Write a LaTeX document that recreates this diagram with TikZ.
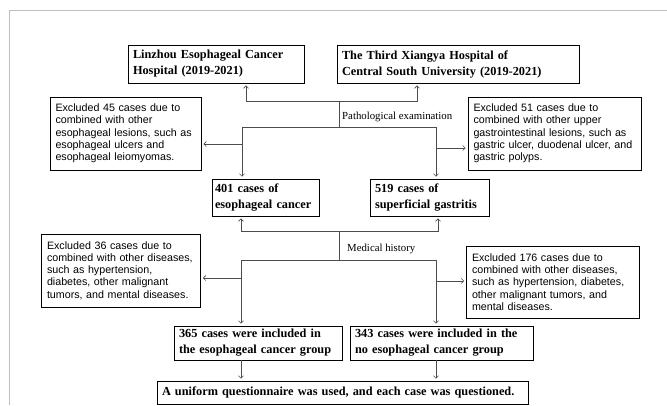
\documentclass[tikz,border=0pt]{standalone}
\usepackage{fontspec}
\setmainfont{Liberation Serif}
\newfontfamily\exclfont{Liberation Sans}
\usetikzlibrary{arrows.meta, positioning}
\tikzset{
  mainbox/.style={draw, line width=0.8pt, inner xsep=5pt, inner ysep=2pt,
    font=\bfseries\fontsize{12.3}{16}\selectfont, text width=#1, align=left},
  exclbox/.style={draw, line width=0.8pt, inner xsep=5.5pt, inner ysep=2pt,
    font=\exclfont\fontsize{10.7}{12.3}\selectfont, text width=#1, align=left},
  link/.style={draw=black!70, line width=0.6pt},
  arr/.style={link, -{Straight Barb[length=2.5pt,width=5pt]}, shorten >=2pt},
  steplabel/.style={font=\fontsize{10.8}{12}\selectfont, anchor=west, inner sep=0pt}}

\begin{document}
\begin{tikzpicture}[x=1pt, y=-1pt]
\useasboundingbox (0,0) rectangle (667,405);
\draw[black!25, line width=1.2pt] (667,10.5) -- (9.5,10.5) -- (9.5,405);
% hospitals
\node[mainbox=166pt, minimum height=38pt] (linzhou) at (216,64)
  {Linzhou Esophageal Cancer\\Hospital (2019-2021)};
\node[mainbox=232pt, minimum height=38pt] (xiangya) at (458,64)
  {The Third Xiangya Hospital of\\Central South University (2019-2021)};
% first exclusion
\node[exclbox=140pt, minimum height=73pt] (exc45) at (125.5,133.5)
  {Excluded 45 cases due to\\combined with other\\esophageal lesions, such as\\esophageal ulcers and\\esophageal leiomyomas.};
\node[exclbox=162pt, minimum height=73pt] (exc51) at (554.5,133.5)
  {Excluded 51 cases due to\\combined with other upper\\gastrointestinal lesions, such as\\gastric ulcer, duodenal ulcer, and\\gastric polyps.};
\node[mainbox=101pt, inner xsep=3pt, minimum height=37pt] (ec401) at (265.5,197.5)
  {401 cases of\\esophageal cancer};
\node[mainbox=109pt, minimum height=37pt] (sg519) at (429.5,197.5)
  {519 cases of\\superficial gastritis};
% second exclusion
\node[exclbox=148pt, minimum height=73pt] (exc36) at (121,270.5)
  {Excluded 36 cases due to\\combined with other diseases,\\such as hypertension,\\diabetes, other malignant\\tumors, and mental diseases.};
\node[exclbox=162pt, minimum height=72pt] (exc176) at (553,282)
  {Excluded 176 cases due to\\combined with other diseases,\\such as hypertension, diabetes,\\other malignant tumors, and\\mental diseases.};
\node[mainbox=158pt, minimum height=34pt] (inc365) at (258,343)
  {365 cases were included in\\the esophageal cancer group};
\node[mainbox=173pt, minimum height=34pt] (inc343) at (441.5,343)
  {343 cases were included in the\\no esophageal cancer group};
\node[mainbox=361pt, minimum height=23pt] (quest) at (342.5,392.5)
  {A uniform questionnaire was used, and each case was questioned.};

% pathological examination
\coordinate (patho) at (339,101);
\coordinate (pathosplit) at (339,127);
\draw[link] (pathosplit) -- (patho);
\draw[arr] (patho) -| ([xshift=30pt]linzhou.south);
\draw[arr] (patho) -| ([xshift=-41pt]xiangya.south);
\draw[arr] (pathosplit) -| ([xshift=-23.5pt]ec401.north);
\draw[arr] (pathosplit) -| ([xshift=6.5pt]sg519.north);
\coordinate (cut45) at (242,144);
\coordinate (cut51) at (436,148);
\draw[arr] (cut45) -- (cut45 -| exc45.east);
\draw[arr] (cut51) -- (cut51 -| exc51.west);
\node[steplabel] (pathotext) at (342,117) {Pathological examination};

% medical history
\coordinate (hist) at (339,231);
\coordinate (histsplit) at (339,260);
\draw[link] (histsplit) -- (hist);
\draw[arr] (hist) -| ([xshift=-24.5pt]ec401.south);
\draw[arr] (hist) -| ([xshift=8.5pt]sg519.south);
\draw[arr] (histsplit) -| ([xshift=-17pt]inc365.north);
\draw[arr] (histsplit) -| ([xshift=-5.5pt]inc343.north);
\coordinate (cut36) at (241,278);
\coordinate (cut176) at (436,281);
\draw[arr] (cut36) -- (cut36 -| exc36.east);
\draw[arr] (cut176) -- (cut176 -| exc176.west);
\node[steplabel] (histtext) at (347,249) {Medical history};

% questionnaire
\draw[arr] ([xshift=-17pt]inc365.south) -- ([xshift=-17pt]inc365.south |- quest.north);
\draw[arr] ([xshift=-5.5pt]inc343.south) -- ([xshift=-5.5pt]inc343.south |- quest.north);
\end{tikzpicture}
\end{document}
